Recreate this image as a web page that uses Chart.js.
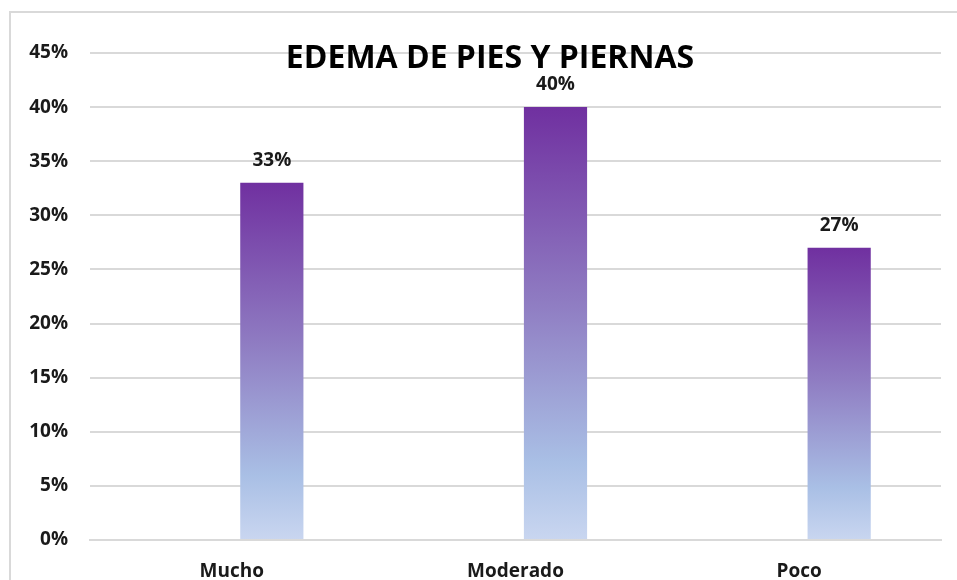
<!DOCTYPE html>
<html>
<head>
<meta charset="utf-8">
<script src="https://cdn.jsdelivr.net/npm/chart.js@4/dist/chart.umd.min.js"></script>
<style>
  html, body { margin: 0; padding: 0; background: #fff; overflow: hidden; }
  #wrap { width: 957px; height: 580px; position: relative; }
</style>
</head>
<body>
<div id="wrap"><canvas id="myChart" width="957" height="580"></canvas></div>
<script>
// Datos del gráfico
const categorias = ['Mucho', 'Moderado', 'Poco'];
const valores = [33, 40, 27];
const serieVacia = [null, null, null]; // serie sin valores (deja el hueco a la izquierda)
const ticksY = [0, 5, 10, 15, 20, 25, 30, 35, 40, 45];
const titulo = 'EDEMA DE PIES Y PIERNAS';

const FUENTE = '"Open Sans", "Liberation Sans", sans-serif';
const GRIS = '#d9d9d9';

// Degradado por barra: morado arriba, azul claro abajo
function degradado(context) {
    const chart = context.chart;
    const y = chart.scales.y;
    if (!y || !chart.chartArea) return '#7030a0';
    const v = context.raw;
    const top = y.getPixelForValue(v);
    const bottom = y.getPixelForValue(0);
    const g = chart.ctx.createLinearGradient(0, top, 0, bottom);
    g.addColorStop(0, '#7030a0');
    g.addColorStop(0.45, '#8f7cc2');
    g.addColorStop(0.82, '#a9bfe5');
    g.addColorStop(1, '#c9d6f0');
    return g;
}

// Marco del gráfico, título y etiquetas de datos
const extras = {
    id: 'extras',
    beforeDraw(chart) {
        const ctx = chart.ctx;
        ctx.save();
        ctx.strokeStyle = GRIS;
        ctx.lineWidth = 2;
        ctx.strokeRect(10, 12, chart.width + 10, chart.height + 10);
        ctx.restore();
    },
    afterDatasetsDraw(chart) {
        const ctx = chart.ctx;
        const meta = chart.getDatasetMeta(1);
        ctx.save();
        ctx.fillStyle = '#1a1a1a';
        ctx.font = 'bold 19px ' + FUENTE;
        ctx.textAlign = 'center';
        ctx.textBaseline = 'alphabetic';
        meta.data.forEach((bar, i) => {
            ctx.fillText(valores[i] + '%', bar.x, bar.y - 17);
        });
        ctx.restore();
    },
    afterDraw(chart) {
        const ctx = chart.ctx;
        ctx.save();
        ctx.fillStyle = '#000';
        ctx.font = 'bold 32px ' + FUENTE;
        ctx.textAlign = 'center';
        ctx.textBaseline = 'alphabetic';
        ctx.fillText(titulo, 490, 68);
        ctx.restore();
    }
};

new Chart(document.getElementById('myChart').getContext('2d'), {
    type: 'bar',
    data: {
        labels: categorias,
        datasets: [
            {
                label: '',
                data: serieVacia,
                backgroundColor: 'rgba(0,0,0,0)'
            },
            {
                label: titulo,
                data: valores,
                backgroundColor: degradado,
                borderWidth: 0
            }
        ]
    },
    options: {
        responsive: false,
        animation: false,
        devicePixelRatio: 1,
        categoryPercentage: 0.564,
        barPercentage: 0.79,
        layout: { padding: { top: 53, right: 16, left: 0, bottom: 0 } },
        plugins: {
            legend: { display: false },
            title: { display: false },
            tooltip: { enabled: false }
        },
        scales: {
            x: {
                grid: { display: false, drawTicks: false },
                border: { color: GRIS, width: 2 },
                ticks: {
                    color: '#1a1a1a',
                    font: { family: FUENTE, size: 19, weight: 'bold' },
                    padding: 20,
                    maxRotation: 0,
                    autoSkip: false
                },
                afterFit(scale) { scale.height = 40; }
            },
            y: {
                min: 0,
                max: 45,
                afterBuildTicks(scale) {
                    scale.ticks = ticksY.map(v => ({ value: v }));
                },
                grid: { color: GRIS, lineWidth: 2, drawTicks: false },
                border: { display: false },
                ticks: {
                    color: '#1a1a1a',
                    font: { family: FUENTE, size: 19, weight: 'bold' },
                    padding: 22,
                    autoSkip: false,
                    callback: v => v + '%'
                },
                afterFit(scale) { scale.width = 90; }
            }
        }
    },
    plugins: [extras]
});
</script>
</body>
</html>
